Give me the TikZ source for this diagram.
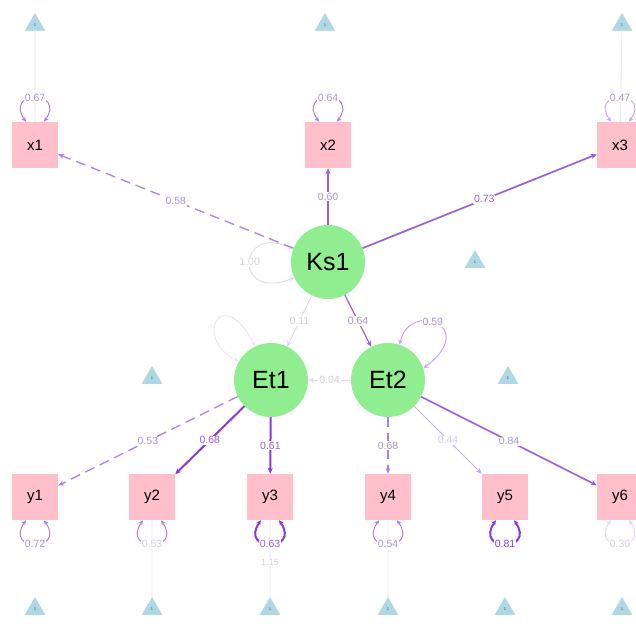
\documentclass[tikz,border=0pt]{standalone}
\usepackage{fontspec}
\setmainfont{Liberation Sans}
\usetikzlibrary{shapes.geometric,arrows.meta,calc}
\definecolor{boxpink}{RGB}{255,192,203}
\definecolor{latgreen}{RGB}{144,238,144}
\definecolor{triblue}{RGB}{173,216,230}
\definecolor{pdark}{RGB}{140,55,220}
\definecolor{pmid}{RGB}{155,95,220}
\definecolor{plav}{RGB}{172,130,225}
\definecolor{plight}{RGB}{200,168,236}
\definecolor{pfaint}{RGB}{228,212,244}
\definecolor{icept}{RGB}{232,232,238}
\definecolor{labgray}{RGB}{170,150,200}
\definecolor{labfaint}{RGB}{215,205,230}
\begin{document}
\begin{tikzpicture}[x=1pt,y=-1pt,
  obs/.style={rectangle, fill=boxpink, minimum width=46pt, minimum height=46pt, inner sep=0pt, font=\fontsize{15}{15}\selectfont},
  lat/.style={circle, fill=latgreen, minimum size=74pt, inner sep=0pt, font=\fontsize{25}{25}\selectfont},
  tri/.style={regular polygon, regular polygon sides=3, fill=triblue, draw=triblue!85!black!60!white, line width=0.4pt, minimum size=23pt, inner sep=0pt, font=\fontsize{4}{4}\selectfont, text=black!70},
  lbl/.style={fill=white, inner sep=0.8pt, font=\fontsize{10.5}{10.5}\selectfont, text=labgray},
  arr/.style={-{Stealth[length=6pt,width=5pt]}},
  darr/.style={{Stealth[length=5pt,width=4.5pt]}-{Stealth[length=5pt,width=4.5pt]}},
  iline/.style={draw=icept, line width=0.8pt},
  dsh/.style={dash pattern=on 10pt off 6pt},
  uploop/.style={darr},
]
\useasboundingbox (0,0) rectangle (636,623);
% intercept triangles
\node[tri] (t1) at (35,25) {1};
\node[tri] (t2) at (325,25) {1};
\node[tri] (t3) at (622,25) {1};
\node[tri] (t4) at (475,262) {1};
\node[tri] (t5) at (152,378) {1};
\node[tri] (t6) at (508,378) {1};
\node[tri] (b1) at (35,609) {1};
\node[tri] (b2) at (152,609) {1};
\node[tri] (b3) at (270,609) {1};
\node[tri] (b4) at (388,609) {1};
\node[tri] (b5) at (505,609) {1};
\node[tri] (b6) at (622,609) {1};
% observed
\node[obs] (x1) at (35,145) {x1};
\node[obs] (x2) at (328,145) {x2};
\node[obs] (x3) at (620,145) {x3};
\node[obs] (y1) at (35,497) {y1};
\node[obs] (y2) at (152,497) {y2};
\node[obs] (y3) at (270,497) {y3};
\node[obs] (y4) at (388,497) {y4};
\node[obs] (y5) at (505,497) {y5};
\node[obs] (y6) at (620,497) {y6};
% latent
\node[lat] (Ks1) at (328,262) {Ks1};
\node[lat] (Et1) at (271,380) {Et1};
\node[lat] (Et2) at (388,380) {Et2};
% intercept lines
\draw[iline] (t1) -- (x1);
\draw[iline] (t3) -- (x3);
\draw[iline] (b2) -- (y2);
\draw[iline] (b3) -- node[pos=0.45, fill=white, inner sep=0.5pt, font=\fontsize{9}{9}\selectfont, text=labfaint]{1.15} (y3);
\draw[iline] (b4) -- (y4);
% residual loops on observed
\draw[darr, draw=plav, line width=1pt] ($(x1.north)+(-9,0)$) .. controls +(-22,-32) and +(22,-32) .. node[lbl]{0.67} ($(x1.north)+(9,0)$);
\draw[darr, draw=plav, line width=1pt] ($(x2.north)+(-9,0)$) .. controls +(-22,-32) and +(22,-32) .. node[lbl]{0.64} ($(x2.north)+(9,0)$);
\draw[darr, draw=plight, line width=0.9pt] ($(x3.north)+(-9,0)$) .. controls +(-22,-32) and +(22,-32) .. node[lbl]{0.47} ($(x3.north)+(9,0)$);
\draw[darr, draw=plav, line width=1pt] ($(y1.south)+(-9,0)$) .. controls +(-22,32) and +(22,32) .. node[lbl]{0.72} ($(y1.south)+(9,0)$);
\draw[darr, draw=plav, line width=1pt] ($(y2.south)+(-9,0)$) .. controls +(-22,32) and +(22,32) .. node[lbl, text=labfaint]{0.53} ($(y2.south)+(9,0)$);
\draw[darr, draw=pdark, line width=2pt] ($(y3.south)+(-9,0)$) .. controls +(-22,32) and +(22,32) .. node[lbl, text=pmid]{0.63} ($(y3.south)+(9,0)$);
\draw[darr, draw=plav, line width=1pt] ($(y4.south)+(-9,0)$) .. controls +(-22,32) and +(22,32) .. node[lbl]{0.54} ($(y4.south)+(9,0)$);
\draw[darr, draw=pdark, line width=2pt] ($(y5.south)+(-9,0)$) .. controls +(-22,32) and +(22,32) .. node[lbl, text=pdark]{0.81} ($(y5.south)+(9,0)$);
\draw[darr, draw=pfaint, line width=0.9pt] ($(y6.south)+(-9,0)$) .. controls +(-22,32) and +(22,32) .. node[lbl, text=labfaint]{0.30} ($(y6.south)+(9,0)$);
% latent loops
\draw[darr, draw=pfaint, line width=0.9pt] (Ks1.160) .. controls (238,222) and (232,302) .. node[lbl, text=labfaint, pos=0.5]{1.00} (Ks1.205);
\draw[darr, draw=pfaint!70!white, line width=0.8pt] (Et1.150) .. controls (192,338) and (222,282) .. (Et1.115);
\draw[darr, draw=plight, line width=1pt] (Et2.72) .. controls (410,300) and (480,325) .. node[lbl, pos=0.45]{0.59} (Et2.18);
% structural paths
\draw[arr, draw=plav, line width=1.3pt, dsh] (Ks1) -- node[lbl]{0.58} (x1);
\draw[arr, draw=pmid, line width=1.3pt] (Ks1) -- node[lbl]{0.60} (x2);
\draw[arr, draw=pmid, line width=1.7pt] (Ks1) -- node[lbl, pos=0.52, text=pmid]{0.73} (x3);
\draw[arr, draw=pfaint, line width=0.9pt] (Ks1) -- node[lbl, text=labfaint]{0.11} (Et1);
\draw[arr, draw=pmid, line width=1.2pt] (Ks1) -- node[lbl]{0.64} (Et2);
\draw[arr, draw=pfaint, line width=0.9pt] (Et2) -- node[lbl, text=labfaint]{0.04} (Et1);
\draw[arr, draw=plav, line width=1.3pt, dsh] (Et1) -- node[lbl]{0.53} (y1);
\draw[arr, draw=pdark, line width=2pt] (Et1) -- node[lbl, text=pmid]{0.68} (y2);
\draw[arr, draw=pdark, line width=2pt] (Et1) -- node[lbl, text=pmid]{0.61} (y3);
\draw[arr, draw=plav, line width=1.3pt, dsh] (Et2) -- node[lbl]{0.68} (y4);
\draw[arr, draw=plight, line width=1pt] (Et2) -- node[lbl, text=labfaint]{0.44} (y5);
\draw[arr, draw=pmid, line width=1.6pt] (Et2) -- node[lbl]{0.84} (y6);
\end{tikzpicture}
\end{document}
